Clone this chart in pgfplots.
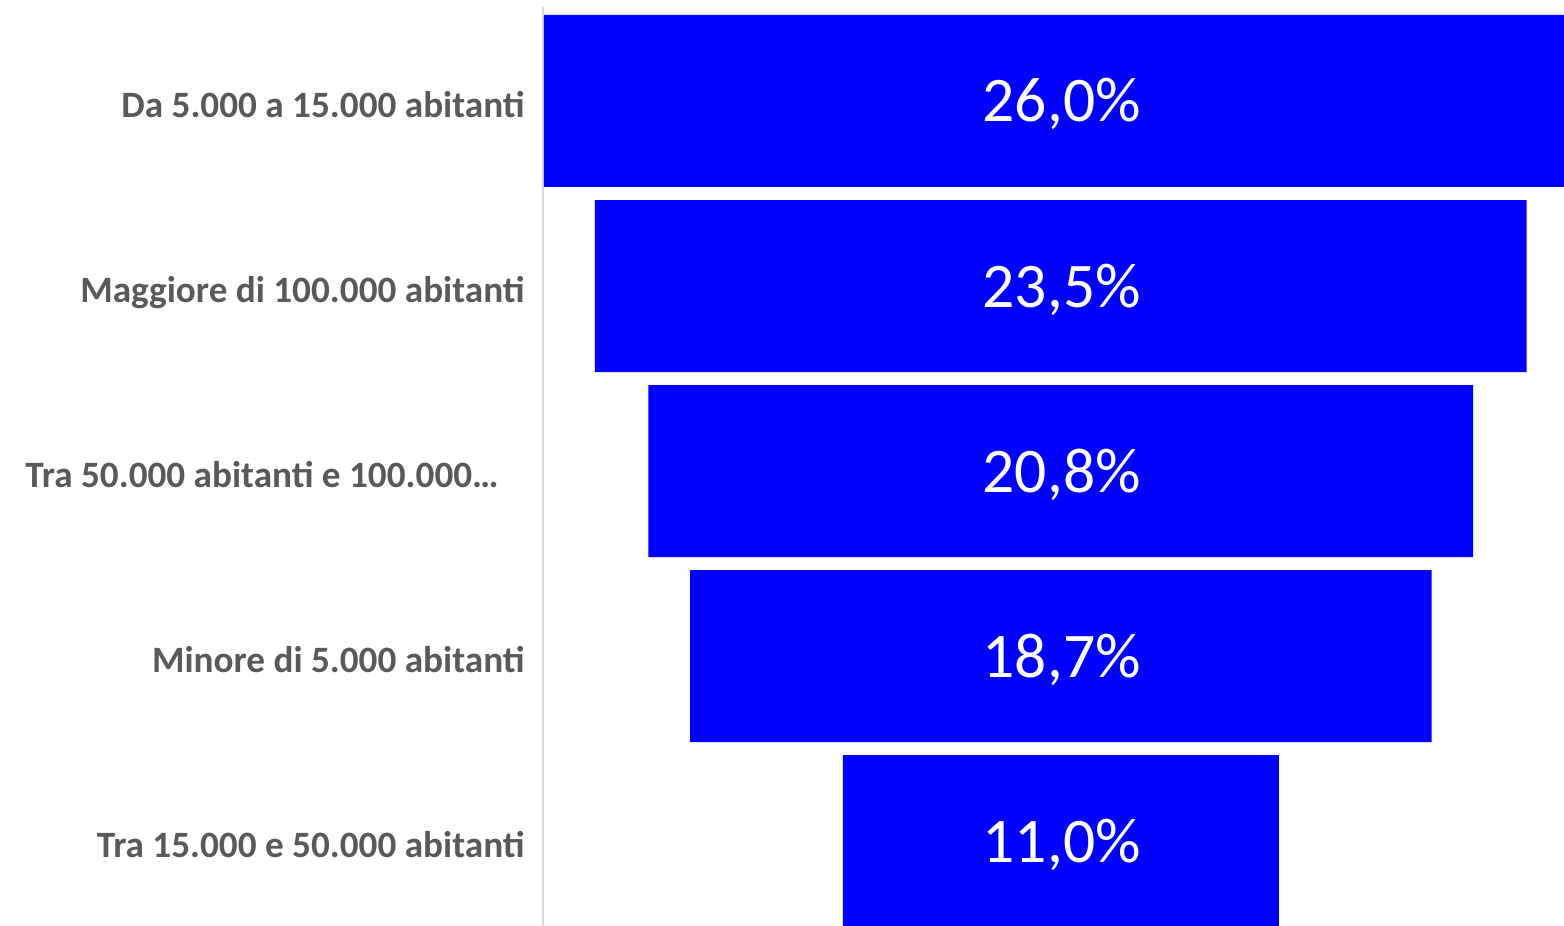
\documentclass[border=0pt]{standalone}
\usepackage{pgfplots}
\pgfplotsset{compat=1.18}
\usepackage{fontspec}
\setmainfont{Carlito}
\definecolor{barblue}{HTML}{0000FF}
\definecolor{lblgray}{HTML}{595959}
\definecolor{axgray}{HTML}{D9D9D9}
\pgfplotsset{funnel/.style={
  scale only axis, width=510.5pt, height=459.5pt,
  xmin=0, xmax=25.75, ymin=-0.508, ymax=4.459, y dir=reverse,
  at={(0,0)}, anchor=south west,
}}
\begin{document}
\begin{tikzpicture}
\begin{axis}[funnel,
  xbar stacked, bar width=86pt,
  axis x line=none, axis y line*=left,
  y axis line style={draw=axgray, line width=1pt},
  xtick=\empty,
  ytick={0,1,2,3,4},
  yticklabels={Da 5.000 a 15.000 abitanti, Maggiore di 100.000 abitanti, {Tra 50.000 abitanti e 100.000…\kern13pt}, Minore di 5.000 abitanti, Tra 15.000 e 50.000 abitanti},
  major tick length=0pt,
  yticklabel style={anchor=base east, inner sep=0pt, xshift=-9pt, yshift=-8.2pt,
    font=\fontsize{18.6}{22}\selectfont\bfseries, text=lblgray},
]
\addplot[draw=none, fill=none] coordinates {(0.02,0) (1.31,1) (2.66,2) (3.71,3) (7.56,4)};
\addplot[draw=none, fill=barblue] coordinates {(26.0,0) (23.5,1) (20.8,2) (18.7,3) (11.0,4)};
\end{axis}
\begin{axis}[funnel, axis lines=none, xtick=\empty, ytick=\empty]
\addplot[only marks, mark=none, nodes near coords, point meta=explicit symbolic,
  every node near coord/.style={anchor=base, yshift=-10.5pt, inner sep=0pt, text=white,
    font=\fontsize{31.8}{36}\selectfont}]
  coordinates {(13.08,0) [26,0\%] (13.08,1) [23,5\%] (13.08,2) [20,8\%] (13.08,3) [18,7\%] (13.08,4) [11,0\%]};
\end{axis}
\pgfresetboundingbox
\path[use as bounding box] (-271.5pt,0) rectangle (510.5pt,463pt);
\end{tikzpicture}
\end{document}
